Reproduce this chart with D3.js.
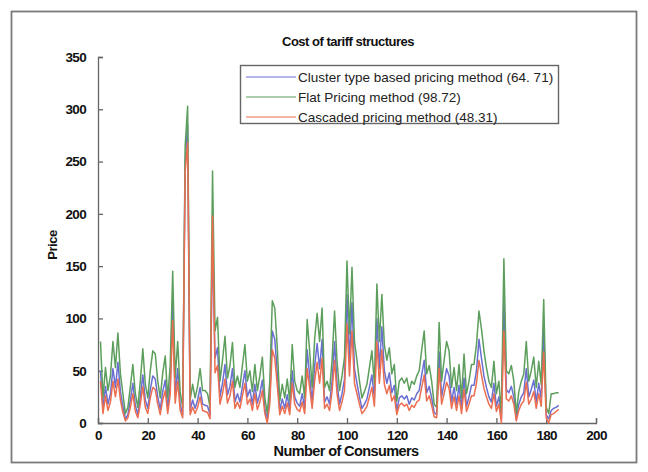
<!DOCTYPE html>
<html>
<head>
<meta charset="utf-8">
<script src="https://cdn.jsdelivr.net/npm/d3@7"></script>
<style>
  html, body { margin: 0; padding: 0; background: #fff; }
  svg { display: block; }
  text { font-family: "Liberation Sans", Arial, Helvetica, sans-serif; }
</style>
</head>
<body>
<svg id="chart" width="648" height="472"></svg>
<script>
// Price per consumer for the three tariff structures (consumers 1..185)
const flatPrice = [
  78, 24, 53, 31, 45, 78, 53, 86, 47, 28, 9, 15, 35, 56, 28, 15, 40, 71, 37, 24,
  50, 69, 66, 40, 24, 48, 64, 24, 55, 145, 43, 78, 30, 15, 265, 303, 22, 37, 24, 35,
  52, 31, 31, 28, 15, 241, 88, 101, 40, 60, 83, 43, 55, 77, 34, 45, 34, 55, 75, 40,
  50, 30, 56, 31, 45, 63, 24, 9, 40, 117, 110, 72, 21, 37, 24, 42, 21, 75, 40, 31,
  28, 45, 24, 99, 69, 34, 80, 105, 78, 110, 34, 40, 31, 60, 107, 59, 31, 45, 63, 155,
  85, 149, 78, 60, 40, 24, 30, 37, 53, 69, 37, 133, 78, 123, 75, 60, 72, 47, 56, 21,
  40, 43, 38, 43, 31, 40, 37, 45, 50, 70, 88, 47, 55, 40, 18, 15, 96, 40, 60, 78,
  69, 34, 53, 31, 56, 24, 66, 28, 40, 56, 56, 75, 107, 90, 69, 53, 40, 34, 59, 28,
  40, 9, 157, 50, 47, 55, 40, 9, 30, 40, 47, 78, 40, 50, 63, 34, 59, 37, 118, 15,
  9, 28, 28, 29, 29
];
const clusterPrice = [
  50, 14, 35, 18, 28, 52, 34, 58, 30, 16, 4, 8, 22, 38, 17, 8, 25, 46, 22, 14,
  32, 45, 42, 25, 13, 30, 41, 14, 36, 118, 27, 52, 18, 8, 250, 285, 12, 22, 14, 22,
  34, 18, 17, 16, 8, 175, 62, 72, 25, 38, 56, 27, 35, 52, 20, 28, 20, 35, 50, 25,
  32, 18, 37, 19, 28, 41, 14, 4, 25, 88, 80, 48, 12, 23, 14, 27, 12, 50, 25, 19,
  16, 28, 14, 70, 45, 20, 54, 76, 52, 80, 20, 25, 18, 40, 78, 38, 18, 28, 42, 123,
  60, 115, 52, 38, 25, 14, 18, 23, 34, 46, 23, 100, 52, 92, 50, 38, 48, 29, 36, 12,
  24, 26, 23, 26, 18, 24, 22, 28, 31, 46, 60, 29, 35, 24, 10, 8, 68, 25, 38, 52,
  45, 20, 34, 18, 36, 14, 43, 16, 25, 36, 36, 50, 80, 62, 45, 34, 25, 20, 38, 16,
  25, 4, 118, 32, 29, 35, 25, 4, 18, 25, 29, 52, 25, 32, 41, 20, 38, 23, 92, 8,
  4, 12, 14, 15, 17
];
const cascadedPrice = [
  40, 9, 26, 12, 20, 40, 25, 42, 22, 10, 2, 5, 15, 28, 11, 5, 18, 35, 15, 9,
  24, 34, 32, 18, 8, 22, 31, 9, 27, 98, 19, 40, 12, 5, 240, 268, 8, 15, 9, 15,
  25, 12, 11, 10, 4, 198, 48, 55, 18, 28, 42, 19, 26, 40, 14, 20, 14, 26, 38, 18,
  23, 12, 28, 13, 20, 31, 9, 0, 18, 70, 62, 36, 8, 16, 9, 19, 8, 38, 18, 13,
  11, 20, 9, 52, 34, 14, 40, 58, 38, 62, 14, 18, 12, 30, 60, 28, 12, 20, 31, 95,
  45, 88, 38, 28, 18, 9, 12, 16, 25, 34, 16, 78, 38, 70, 37, 28, 36, 21, 26, 8,
  17, 19, 16, 18, 12, 17, 15, 20, 22, 34, 46, 21, 26, 17, 6, 5, 52, 18, 28, 39,
  33, 14, 25, 12, 26, 9, 32, 11, 18, 26, 26, 38, 60, 46, 33, 25, 18, 14, 28, 11,
  18, 0, 88, 23, 21, 26, 18, 2, 12, 18, 21, 39, 18, 23, 30, 14, 28, 16, 68, 5,
  0, 8, 9, 11, 13
];
const seriesNames = [
  "Cluster type based pricing method (64. 71)",
  "Flat Pricing method (98.72)",
  "Cascaded pricing method (48.31)"
];
const xTicks = [0, 20, 40, 60, 80, 100, 120, 140, 160, 180, 200];
const yTicks = [0, 50, 100, 150, 200, 250, 300, 350];
const titleText = "Cost of tariff structures";
const xLabel = "Number of Consumers";
const yLabel = "Price";

const colors = ["#6a6fd2", "#5c9e5c", "#ec6e50"];
const seriesData = [clusterPrice, flatPrice, cascadedPrice];

const svg = d3.select("#chart");

// outer frame
svg.append("rect")
  .attr("x", 11.5).attr("y", 11.5).attr("width", 625).attr("height", 451)
  .attr("fill", "#fff").attr("stroke", "#7a7a7a").attr("stroke-width", 1.8);

const x = d3.scaleLinear().domain([0, 200]).range([98, 596]);
const y = d3.scaleLinear().domain([0, 350]).range([423, 57]);

// axes with inward ticks, no box
const xAxis = svg.append("g")
  .attr("transform", `translate(0,${y(0)})`)
  .call(d3.axisBottom(x).tickValues(xTicks).tickSize(-5).tickPadding(7).tickFormat(d3.format("d")));
const yAxis = svg.append("g")
  .attr("transform", `translate(${x(0)},0)`)
  .call(d3.axisLeft(y).tickValues(yTicks).tickSize(-5).tickPadding(12).tickFormat(d3.format("d")));

[xAxis, yAxis].forEach(g => {
  g.select(".domain").attr("stroke", "#666").attr("stroke-width", 1.3);
  g.selectAll(".tick line").attr("stroke", "#666").attr("stroke-width", 1.3);
  g.selectAll(".tick text")
    .attr("fill", "#111")
    .style("font-size", "13.5px")
    .style("font-weight", "bold")
    .style("letter-spacing", "-0.7px");
});

// data lines
const line = d3.line()
  .x((d, i) => x(i + 1))
  .y(d => y(d));

svg.append("g").selectAll("path")
  .data(seriesData)
  .join("path")
  .attr("d", d => line(d))
  .attr("fill", "none")
  .attr("stroke", (d, i) => colors[i])
  .attr("stroke-width", 1.5)
  .attr("stroke-linejoin", "round");

// title and axis labels
svg.append("text")
  .attr("x", 348).attr("y", 46)
  .attr("text-anchor", "middle")
  .style("font-size", "13px").style("font-weight", "bold").style("letter-spacing", "-0.5px")
  .attr("fill", "#111")
  .text(titleText);

svg.append("text")
  .attr("x", 346).attr("y", 456)
  .attr("text-anchor", "middle")
  .style("font-size", "14.5px").style("font-weight", "bold").style("letter-spacing", "-0.6px")
  .attr("fill", "#111")
  .text(xLabel);

svg.append("text")
  .attr("transform", `translate(57,${(y(0) + y(350)) / 2 + 5}) rotate(-90)`)
  .attr("text-anchor", "middle")
  .style("font-size", "13px").style("font-weight", "bold").style("letter-spacing", "-0.5px")
  .attr("fill", "#111")
  .text(yLabel);

// legend
const legend = svg.append("g");
legend.append("rect")
  .attr("x", 240.5).attr("y", 65.5).attr("width", 318).attr("height", 58)
  .attr("fill", "#fff").attr("stroke", "#666").attr("stroke-width", 1.4);

seriesNames.forEach((name, i) => {
  const ly = 77 + i * 20;
  legend.append("line")
    .attr("x1", 246).attr("x2", 296).attr("y1", ly).attr("y2", ly)
    .attr("stroke", colors[i]).attr("stroke-width", 1.2);
  legend.append("text")
    .attr("x", 298).attr("y", ly + 5)
    .style("font-size", "13.5px")
    .attr("fill", "#222")
    .text(name);
});
</script>
</body>
</html>
